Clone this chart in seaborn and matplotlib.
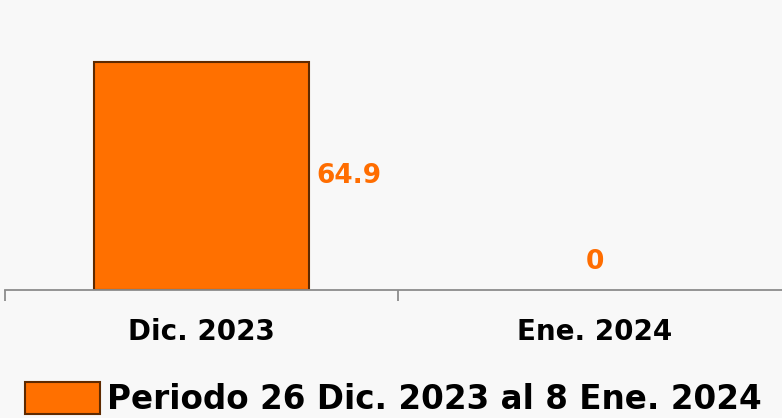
import matplotlib
matplotlib.use('Agg')
import matplotlib.pyplot as plt
import matplotlib.patches as mpatches
import seaborn as sns
import pandas as pd

# ------------------ DATA ------------------
categories = ["Dic. 2023", "Ene. 2024"]
values = [64.9, 0]
value_labels = ["64.9", "0"]
series_name = "Periodo 26 Dic. 2023 al 8 Ene. 2024"

df = pd.DataFrame({"mes": categories, "valor": values})

bar_color = "#ff7000"
edge_color = "#5e2a00"
label_color = "#ff6d00"
bg = "#f8f8f8"

sns.set_style("white")
plt.rcParams['font.family'] = ['DejaVu Sans']

fig = plt.figure(figsize=(7.82, 4.18), dpi=100, facecolor=bg)
ax = fig.add_axes([5 / 782, 128 / 418, 786 / 782, 290 / 418])
ax.set_facecolor(bg)

sns.barplot(
    data=df, x="mes", y="valor", color=bar_color, saturation=1, width=0.547,
    edgecolor=edge_color, linewidth=1.5, errorbar=None, ax=ax
)

ax.set_xlim(-0.5, 1.5)
ax.set_ylim(0, 64.9 * 290 / 228)
ax.set_xlabel("")
ax.set_ylabel("")
ax.set_yticks([])

for s in ["top", "right", "left"]:
    ax.spines[s].set_visible(False)
ax.spines["bottom"].set_color("#8c8c8c")
ax.spines["bottom"].set_linewidth(1.3)

ax.tick_params(axis="x", which="major", length=0, pad=20,
               labelsize=20, labelcolor="black")
for t in ax.get_xticklabels():
    t.set_fontweight("bold")
ax.set_xticks([-0.5, 0.5, 1.5], minor=True)
ax.tick_params(axis="x", which="minor", bottom=True, length=8,
               color="#8c8c8c", width=1.3)

# value labels
for patch, txt in zip(ax.patches, value_labels):
    h = patch.get_height()
    if h > 0:
        ax.annotate(txt, (patch.get_x() + patch.get_width(), h / 2),
                    xytext=(5, 0), textcoords="offset points",
                    ha="left", va="center", color=label_color,
                    fontsize=19, fontweight="bold")
    else:
        patch.set_linewidth(0)
        ax.annotate(txt, (patch.get_x() + patch.get_width() / 2, h),
                    xytext=(0, 20), textcoords="offset points",
                    ha="center", va="center", color=label_color,
                    fontsize=19, fontweight="bold")

handle = mpatches.Patch(facecolor=bar_color, edgecolor=edge_color, linewidth=1.5)
leg = fig.legend([handle], [series_name], loc="lower left",
                 bbox_to_anchor=(25 / 782, 2 / 418), frameon=False,
                 prop={"size": 23.5, "weight": "bold"},
                 borderpad=0, borderaxespad=0,
                 handlelength=2.3, handleheight=1.1, handletextpad=0.2,
                 labelcolor="black")

fig.savefig("out.png", dpi=100, facecolor=bg)
